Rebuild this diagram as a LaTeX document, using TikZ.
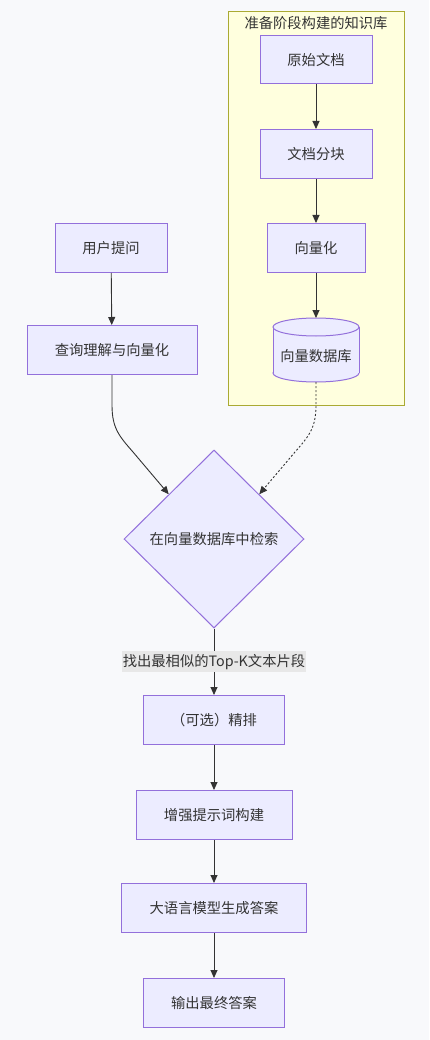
\documentclass[tikz,border=0pt]{standalone}
\usepackage{fontspec}
\setmainfont{Noto Sans CJK SC}
\usetikzlibrary{arrows.meta,shapes.geometric}
\definecolor{bgc}{HTML}{F8F9FB}
\definecolor{nfill}{HTML}{ECECFF}
\definecolor{nline}{HTML}{9370DB}
\definecolor{sfill}{HTML}{FFFFDE}
\definecolor{sline}{HTML}{AAAA33}
\definecolor{tc}{HTML}{333333}
\definecolor{lblbg}{HTML}{E8E8E8}
\tikzset{
  box/.style={draw=nline, fill=nfill, line width=1pt, text=tc, inner sep=0pt, font=\fontsize{14.3}{17}\selectfont},
  link/.style={draw=tc, line width=0.9pt, -{Triangle[length=8pt,width=7pt]}},
  dlink/.style={link, dash pattern=on 2pt off 2pt},
}
\begin{document}
\begin{tikzpicture}[x=1pt,y=-1pt]
\fill[bgc] (0,0) rectangle (429,1040);
\useasboundingbox (0,0) rectangle (429,1040);
% subgraph
\draw[sline, fill=sfill, line width=1pt] (228,12) rectangle (404,405);
\node[text=tc, font=\fontsize{14.3}{17}\selectfont] (sgtitle) at (316,23) {准备阶段构建的知识库};
% knowledge nodes
\node[box, minimum width=112pt, minimum height=48pt] (doc) at (316,60) {原始文档};
\node[box, minimum width=112pt, minimum height=49pt] (chunk) at (316,154) {文档分块};
\node[box, minimum width=98pt, minimum height=49pt] (vec) at (316,248) {向量化};
% cylinder
\draw[nline, fill=nfill, line width=1pt] (316,373) ellipse [x radius=43, y radius=9];
\fill[nfill] (273,327) rectangle (359,373);
\draw[nline, line width=1pt] (273,327) -- (273,373) (359,327) -- (359,373);
\draw[nline, fill=nfill, line width=1pt] (316,327) ellipse [x radius=43, y radius=9];
\node[text=tc, font=\fontsize{14.3}{17}\selectfont] (vdb) at (316,356) {向量数据库};
\coordinate (vdbtop) at (316,318);
\coordinate (vdbbot) at (316,382);
% query nodes
\node[box, minimum width=112pt, minimum height=49pt] (ask) at (111,248) {用户提问};
\node[box, minimum width=170pt, minimum height=49pt] (qv) at (112,350) {查询理解与向量化};
% diamond
\node[box, shape=diamond, minimum width=180pt, minimum height=178pt] (search) at (214,539) {在向量数据库中检索};
% lower chain
\node[box, minimum width=141pt, minimum height=49pt] (rerank) at (214,720) {（可选）精排};
\node[box, minimum width=156pt, minimum height=49pt] (prompt) at (214,815) {增强提示词构建};
\node[box, minimum width=185pt, minimum height=49pt] (llm) at (214,908) {大语言模型生成答案};
\node[box, minimum width=141pt, minimum height=49pt] (out) at (214,1003) {输出最终答案};
% edges
\draw[link] (doc) -- (chunk);
\draw[link] (chunk) -- (vec);
\draw[link] (vec) -- (vdbtop);
\draw[link] (ask) -- (qv);
\draw[link] (qv.south) -- (112,405) .. controls (112,428) and (119,436) .. (133,452) -- (search.north west);
\draw[dlink] (vdbbot) -- (316,405) .. controls (316,428) and (309,436) .. (295,452) -- (search.north east);
\draw[link] (search) -- node[fill=lblbg, text=tc, inner xsep=1pt, inner ysep=0pt, minimum height=21pt, font=\fontsize{14.3}{17}\selectfont] (lbl) {找出最相似的Top-K文本片段} (rerank);
\draw[link] (rerank) -- (prompt);
\draw[link] (prompt) -- (llm);
\draw[link] (llm) -- (out);
\end{tikzpicture}
\end{document}
